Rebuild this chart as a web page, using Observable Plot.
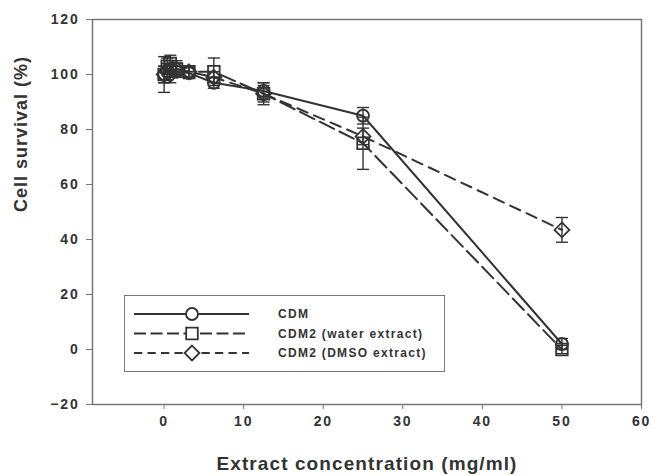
<!DOCTYPE html>
<html>
<head>
<meta charset="utf-8">
<script src="https://cdn.jsdelivr.net/npm/d3@7"></script>
<script src="https://cdn.jsdelivr.net/npm/@observablehq/plot@0.6"></script>
<style>
  body { margin: 0; background: #fff; }
  #wrap { position: relative; width: 653px; height: 476px; font-family: "Liberation Sans", Arial, sans-serif; }
  #legend { position: absolute; left: 124px; top: 295px; width: 321px; height: 77px; border: 1.5px solid #777; background: #fff; box-sizing: border-box; }
  #legend svg { position: absolute; left: 0; top: 0; }
  #wrap g[aria-label="x-axis tick label"] text,
  #wrap g[aria-label="y-axis tick label"] text { letter-spacing: 1.8px; }
  #wrap .xtitle text { letter-spacing: 1.1px; }
  #wrap .ytitle text { letter-spacing: 1px; }
</style>
</head>
<body>
<div id="wrap"></div>
<script>
// Data
const concentrations = [0, 0.39, 0.78, 1.56, 3.125, 6.25, 12.5, 25, 50];
const seriesNames = ["CDM", "CDM2 (water extract)", "CDM2 (DMSO extract)"];
const cdmValues   = [100, 101, 102, 101, 100.5, 97, 94, 85, 2];
const cdmErrors   = [3, 3, 3, 2, 2, 2, 3, 3, 2];
const waterValues = [100, 103, 104, 102, 101, 101, 93, 75, 0];
const waterErrors = [6.5, 3, 3, 3, 2, 5, 3, 9.5, 1.5];
const dmsoValues  = [100, 101, 100, 102, 101, 99, 93, 77.5, 43.5];
const dmsoErrors  = [3, 3, 3, 2, 2, 2, 4, 3, 4.5];
const xTicks = [0, 10, 20, 30, 40, 50, 60];
const yTicks = [-20, 0, 20, 40, 60, 80, 100, 120];

const ink = "#333";
const cap = {draw(ctx, size) { const r = Math.sqrt(size / Math.PI); ctx.moveTo(-r, 0); ctx.lineTo(r, 0); }};
const diamond = {draw(ctx, size) { const r = Math.sqrt(size / Math.PI) * 1.35; ctx.moveTo(0, -r); ctx.lineTo(r, 0); ctx.lineTo(0, r); ctx.lineTo(-r, 0); ctx.closePath(); }};
const square = {draw(ctx, size) { const r = Math.sqrt(size / Math.PI); ctx.rect(-r, -r, 2 * r, 2 * r); }};
const circle = {draw(ctx, size) { const r = Math.sqrt(size / Math.PI); ctx.moveTo(r, 0); ctx.arc(0, 0, r, 0, 2 * Math.PI); }};

const styles = {
  "CDM": {dash: null, symbol: circle, r: 6},
  "CDM2 (water extract)": {dash: "16,6", symbol: square, r: 5.8},
  "CDM2 (DMSO extract)": {dash: "11,7", symbol: diamond, r: 5.5}
};

const valueSets = [cdmValues, waterValues, dmsoValues];
const errorSets = [cdmErrors, waterErrors, dmsoErrors];
const rows = [];
seriesNames.forEach((s, i) => {
  concentrations.forEach((c, j) => {
    rows.push({series: s, x: c, y: valueSets[i][j], e: errorSets[i][j]});
  });
});

const lineMarks = seriesNames.map(s => Plot.line(rows.filter(d => d.series === s), {
  x: "x", y: "y", stroke: ink, strokeWidth: 2, strokeDasharray: styles[s].dash
}));
const dotMarks = seriesNames.map(s => Plot.dot(rows.filter(d => d.series === s), {
  x: "x", y: "y", symbol: styles[s].symbol, r: styles[s].r, stroke: ink, strokeWidth: 1.8, fill: "none"
}));

const chart = Plot.plot({
  width: 653, height: 476,
  marginLeft: 92, marginRight: 12, marginTop: 19, marginBottom: 72,
  x: {domain: [-9, 60]},
  y: {domain: [-20, 120]},
  style: {fontFamily: "'Liberation Sans', Arial, sans-serif", fontWeight: "bold", color: ink, background: "#fff"},
  marks: [
    Plot.frame({stroke: "#777", strokeWidth: 1.5}),
    Plot.axisX({ticks: xTicks, tickSize: 5, tickPadding: 7, fontSize: 14, label: null, stroke: "#777"}),
    Plot.axisY({ticks: yTicks, tickSize: 6, tickPadding: 7, fontSize: 14, label: null, stroke: "#777"}),
    Plot.text(["Extract concentration (mg/ml)"], {frameAnchor: "bottom", text: d => d, dy: 59, lineAnchor: "middle", fontSize: 19, fontWeight: "bold", fill: ink, className: "xtitle"}),
    Plot.text(["Cell survival (%)"], {frameAnchor: "left", text: d => d, dx: -71, rotate: -90, lineAnchor: "middle", fontSize: 18, fontWeight: "bold", fill: ink, className: "ytitle"}),
    Plot.ruleX(rows, {x: "x", y1: d => d.y - d.e, y2: d => d.y + d.e, stroke: ink, strokeWidth: 1.4}),
    Plot.dot(rows, {x: "x", y: d => d.y - d.e, symbol: cap, r: 6, stroke: ink, strokeWidth: 1.4}),
    Plot.dot(rows, {x: "x", y: d => d.y + d.e, symbol: cap, r: 6, stroke: ink, strokeWidth: 1.4}),
    ...lineMarks,
    ...dotMarks
  ]
});

const wrap = document.getElementById("wrap");
wrap.appendChild(chart);

// Legend
const legend = document.createElement("div");
legend.id = "legend";
wrap.appendChild(legend);
const svg = d3.select(legend).append("svg").attr("width", 321).attr("height", 77);
seriesNames.forEach((s, i) => {
  const cy = 18 + i * 19.5;
  const st = styles[s];
  svg.append("line").attr("x1", 9).attr("x2", 124).attr("y1", cy).attr("y2", cy)
    .attr("stroke", ink).attr("stroke-width", 2).attr("stroke-dasharray", st.dash ? st.dash.split(",").map(v => v * 0.75).join(",") : null);
  svg.append("path").attr("transform", `translate(67,${cy})`)
    .attr("d", d3.symbol(st.symbol, Math.PI * st.r * st.r)())
    .attr("fill", "#fff").attr("stroke", ink).attr("stroke-width", 1.8);
  svg.append("text").attr("x", 153).attr("y", cy).attr("dy", "0.35em")
    .attr("font-family", "'Liberation Sans', Arial, sans-serif").attr("font-weight", "bold")
    .attr("font-size", 12).attr("letter-spacing", "1.3px").attr("fill", ink).text(s);
});
</script>
</body>
</html>
